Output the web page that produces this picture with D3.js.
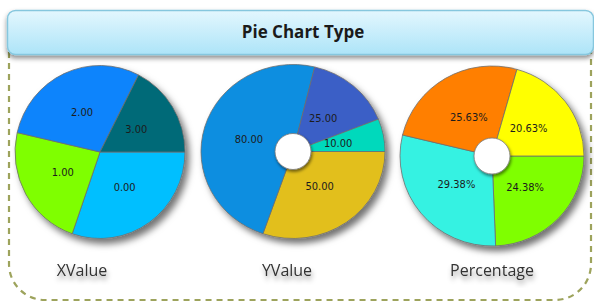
<!DOCTYPE html>
<html>
<head>
<meta charset="utf-8">
<script src="https://cdn.jsdelivr.net/npm/d3@7"></script>
<style>
  html, body { margin: 0; padding: 0; background: #fff; }
  svg { display: block; }
</style>
</head>
<body>
<div id="chart"></div>
<script>
//// Data
// every pie starts at 3 o'clock and runs clockwise
const x_labels = ["0.00", "1.00", "2.00", "3.00"]
const x_shares = [30.3, 23.3, 28.9, 17.5]   // slice sizes as drawn
const x_colors = ["#00bfff", "#7fff00", "#0a84fc", "#006a78"]

const y_values = [50, 80, 25, 10]
const y_colors = ["#e2bf1c", "#0a8ee0", "#3b5ec6", "#00d9bc"]

const pct_values = [24.38, 29.38, 25.63, 20.63]
const pct_colors = ["#7fff00", "#35f2e2", "#ff7f00", "#ffff00"]

const captions = ["XValue", "YValue", "Percentage"]

const W = 594, H = 302

const svg = d3.select("#chart")
    .append("svg")
        .attr("width", W)
        .attr("height", H)

const defs = svg.append("defs")

// header gradient
const grad = defs.append("linearGradient")
    .attr("id", "head-grad")
    .attr("x1", 0).attr("y1", 0).attr("x2", 0).attr("y2", 1)
grad.append("stop").attr("offset", "0%").attr("stop-color", "#e3f7fe")
grad.append("stop").attr("offset", "100%").attr("stop-color", "#ade4f8")

// soft drop shadows
function shadow(id, dx, dy, sd, op) {
    defs.append("filter")
        .attr("id", id)
        .attr("x", "-30%").attr("y", "-30%")
        .attr("width", "160%").attr("height", "160%")
        .append("feDropShadow")
            .attr("dx", dx).attr("dy", dy)
            .attr("stdDeviation", sd)
            .attr("flood-color", "#000")
            .attr("flood-opacity", op)
}
shadow("pie-shadow", 4, 5, 3.5, 0.55)
shadow("hole-shadow", 1, 2, 1.5, 0.5)
shadow("text-shadow", 1, 4, 2.5, 0.4)
shadow("head-shadow", 0, 3, 2.5, 0.45)

// Dashed outer frame
const fx0 = 9, fx1 = 591, fy0 = 52, fy1 = 300, fr = 36
svg.append("path")
    .attr("d", "M" + fx0 + "," + fy0 +
        " L" + fx0 + "," + (fy1 - fr) +
        " A" + fr + "," + fr + " 0 0 0 " + (fx0 + fr) + "," + fy1 +
        " L" + (fx1 - fr) + "," + fy1 +
        " A" + fr + "," + fr + " 0 0 0 " + fx1 + "," + (fy1 - fr) +
        " L" + fx1 + "," + fy0)
    .attr("fill", "none")
    .attr("stroke", "#9da35c")
    .attr("stroke-width", 2.2)
    .attr("stroke-dasharray", "6,5")

// Header bar
svg.append("rect")
    .attr("x", 7.5).attr("y", 10.5)
    .attr("width", 586).attr("height", 44)
    .attr("rx", 8)
    .attr("fill", "url(#head-grad)")
    .attr("stroke", "#86c7de")
    .attr("stroke-width", 1.5)
    .attr("filter", "url(#head-shadow)")

svg.append("text")
    .attr("x", 303)
    .attr("y", 38)
    .attr("text-anchor", "middle")
    .style("font-family", "'Open Sans', sans-serif")
    .style("font-weight", "bold")
    .style("font-size", "17px")
    .style("fill", "#1a1a1a")
    .text("Pie Chart Type")

//// Pies
const pies = [
    {values: x_shares, labels: x_labels, colors: x_colors,
     cx: 100, cy: 152, rx: 85, ry: 86.5, hole: 0},
    {values: y_values, labels: y_values.map(d3.format(".2f")), colors: y_colors,
     cx: 293, cy: 151.5, rx: 92, ry: 87, hole: 18},
    {values: pct_values, labels: pct_values.map(d => d3.format(".2f")(d) + "%"), colors: pct_colors,
     cx: 492, cy: 156, rx: 92, ry: 90, hole: 18}
]

const pie_layout = d3.pie()
    .sort(null)
    .startAngle(Math.PI / 2)
    .endAngle(Math.PI / 2 + 2 * Math.PI)

pies.forEach(p => {
    const arcs = pie_layout(p.values)
    const arc = d3.arc().innerRadius(0).outerRadius(p.rx)
    const label_arc = d3.arc().innerRadius(p.rx * 0.5).outerRadius(p.rx * 0.5)
    const sy = p.ry / p.rx

    const g = svg.append("g")
        .attr("transform", "translate(" + p.cx + "," + p.cy + ")")

    const slices = g.append("g")
        .attr("transform", "scale(1," + sy + ")")
        .attr("filter", "url(#pie-shadow)")

    slices.selectAll("path")
        .data(arcs)
        .enter()
        .append("path")
            .attr("d", arc)
            .attr("fill", (d, i) => p.colors[i])
            .attr("stroke", "#6f6f6f")
            .attr("stroke-width", 0.8)

    if (p.hole > 0) {
        g.append("circle")
            .attr("r", p.hole)
            .attr("fill", "#fff")
            .attr("stroke", "#777")
            .attr("stroke-width", 0.8)
            .attr("filter", "url(#hole-shadow)")
    }

    g.selectAll("text")
        .data(arcs)
        .enter()
        .append("text")
            .attr("x", d => label_arc.centroid(d)[0])
            .attr("y", d => label_arc.centroid(d)[1] * sy)
            .attr("text-anchor", "middle")
            .attr("dominant-baseline", "central")
            .style("font-family", "'DejaVu Sans Condensed', 'DejaVu Sans', sans-serif")
            .style("font-size", "11px")
            .style("fill", "#1c1c1c")
            .text((d, i) => p.labels[i])
})

// Captions under the pies
const caption_x = [82, 287, 492]
svg.selectAll(".caption")
    .data(captions)
    .enter()
    .append("text")
        .attr("class", "caption")
        .attr("x", (d, i) => caption_x[i])
        .attr("y", 276)
        .attr("text-anchor", "middle")
        .attr("filter", "url(#text-shadow)")
        .style("font-family", "'Open Sans', sans-serif")
        .style("font-size", "16px")
        .style("fill", "#333")
        .text(d => d)
</script>
</body>
</html>
